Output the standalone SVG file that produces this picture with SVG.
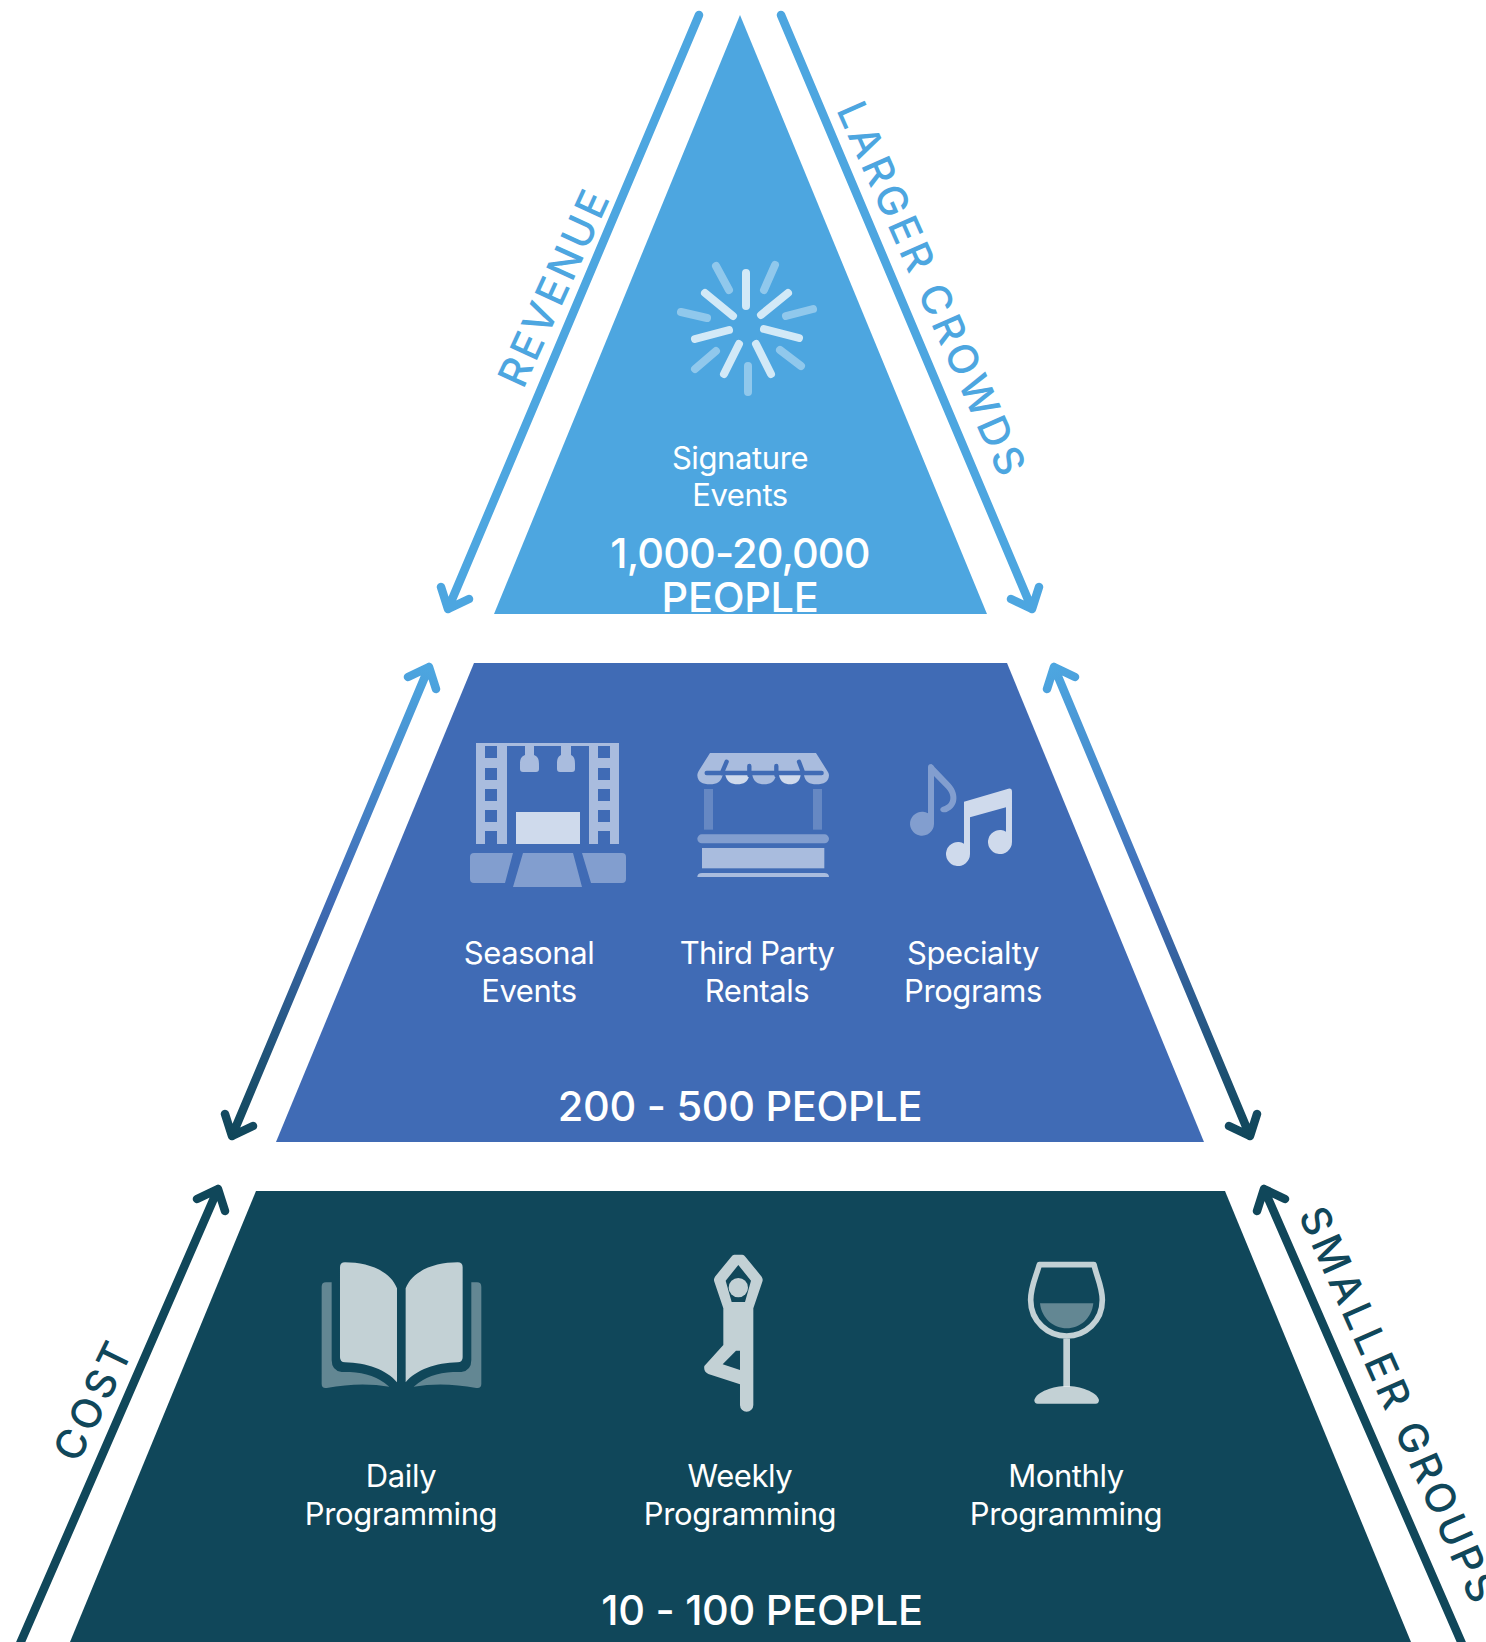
<svg xmlns="http://www.w3.org/2000/svg" width="1486" height="1642" viewBox="0 0 1486 1642">
<style>
text{font-family:"Inter","Liberation Sans",sans-serif;text-anchor:middle;fill:#fff}
.d{font-size:31px;font-weight:400;letter-spacing:-.4px}
.h{font-size:41.5px;font-weight:500;letter-spacing:-.3px}
.s{font-size:41px;font-weight:500}
.a{fill:none;stroke-width:8.5;stroke-linecap:round;stroke-linejoin:round}
.w1{fill:#fff;fill-opacity:.35}
.w2{fill:#fff;fill-opacity:.55}
.w3{fill:#fff;fill-opacity:.75}
.r1{stroke:#fff;stroke-opacity:.75;stroke-width:8;stroke-linecap:round;fill:none}
.r2{stroke:#fff;stroke-opacity:.38;stroke-width:8;stroke-linecap:round;fill:none}
</style>
<defs>
<linearGradient id="gl" gradientUnits="userSpaceOnUse" x1="429" y1="667" x2="232" y2="1136"><stop offset="0" stop-color="#4DA6E0"/><stop offset=".5" stop-color="#406BB5"/><stop offset="1" stop-color="#10475A"/></linearGradient>
<linearGradient id="gr" gradientUnits="userSpaceOnUse" x1="1054" y1="667" x2="1251" y2="1136"><stop offset="0" stop-color="#4DA6E0"/><stop offset=".5" stop-color="#406BB5"/><stop offset="1" stop-color="#10475A"/></linearGradient>
</defs>
<rect width="1486" height="1642" fill="#fff"/>
<g id="connectors">
<path class="a" stroke="#4DA6E0" d="M699 15L448 609M441 587L448 609L469 599"/>
<path class="a" stroke="#4DA6E0" d="M781 15L1032 609M1039 587L1032 609L1011 599"/>
<path class="a" stroke="url(#gl)" d="M429 667L232 1136M225 1114L232 1136L253 1126M408 677L429 667L436 689"/>
<path class="a" stroke="url(#gr)" d="M1054 667L1250 1136M1257 1114L1250 1136L1229 1126M1075 677L1054 667L1047 689"/>
<path class="a" stroke="#10475A" d="M218 1189L19 1646M197 1199L218 1189L225 1211"/>
<path class="a" stroke="#10475A" d="M1264 1189L1463 1646M1285 1199L1264 1189L1257 1211"/>
</g>
<g id="label-revenue"><text class="s" style="fill:#4DA6E0" transform="translate(555 289) rotate(-65.5)" dy="13" textLength="210">REVENUE</text></g>
<g id="label-larger-crowds"><text class="s" style="fill:#4DA6E0" transform="translate(930 289) rotate(66)" dy="13" textLength="404">LARGER CROWDS</text></g>
<g id="label-cost"><text class="s" style="fill:#10475A" transform="translate(94 1402) rotate(-64)" dy="13" textLength="126">COST</text></g>
<g id="label-smaller-groups"><text class="s" style="fill:#10475A" transform="translate(1397 1405) rotate(66)" dy="13" textLength="428">SMALLER GROUPS</text></g>

<g id="tier-top">
<path d="M740 15L987 614H494Z" fill="#4DA6E0"/>
<g id="icon-burst">
<path class="r1" d="M746 273V306M705 293L733 316M788 293L761 315M695 339L729 330M764 329L799 338M739 344L724 374M756 344L771 374"/>
<path class="r2" d="M716 266L729 290M775 265L764 290M681 312L707 318M813 309L786 316M716 351L695 369M780 350L801 366M748 366V392"/>
</g>
<text class="d" x="740" y="469">Signature</text>
<text class="d" x="740" y="506">Events</text>
<text class="h" x="740" y="568" style="letter-spacing:-.9px">1,000-20,000</text>
<text class="h" x="740" y="612">PEOPLE</text>
</g>

<g id="tier-middle">
<path d="M474 663H1007L1204 1142H276Z" fill="#406BB5"/>
<g id="icon-stage">
<path class="w2" fill-rule="evenodd" d="M476 743H619V844H610V831H598V844H589V746H507V844H497V831H485V844H476ZM485 746V758H497V746ZM485 768V780H497V768ZM485 789V801H497V789ZM485 810V822H497V810ZM598 746V758H610V746ZM598 768V780H610V768ZM598 789V801H610V789ZM598 810V822H610V810Z"/>
<path class="w2" d="M525 746H534V755C539 757 539 761 539 766V769Q539 772 536 772H523Q520 772 520 769V766C520 761 520 757 525 755ZM561 746H571V755C575 757 575 761 575 766V769Q575 772 572 772H560Q557 772 557 769V766C557 761 557 757 561 755Z"/>
<rect class="w3" x="516" y="812" width="64" height="32"/>
<path class="w1" d="M513 853L505 883H474Q470 883 470 879V857Q470 853 474 853ZM523 853H573L582 887H513ZM582 853H622Q626 853 626 857V879Q626 883 622 883H591Z"/>
</g>
<g id="icon-stall" transform="translate(680 730) scale(.3333)">
<path class="w2" d="M90 69H408L442 123Q447 130 447 135H52Q52 130 56 123Z"/>
<path class="w2" d="M52 135H128C124 155 110 163 90 163C68 163 52 155 52 135Z"/>
<path class="w3" d="M136 135H208C205 155 190 163 172 163C155 163 140 155 136 135Z"/>
<path class="w2" d="M217 135H288C285 155 270 163 252 163C235 163 220 155 217 135Z"/>
<path class="w3" d="M297 135H362C360 155 345 163 330 163C315 163 300 155 297 135Z"/>
<path class="w2" d="M372 135H447C447 155 431 163 409 163C389 163 375 155 372 135Z"/>
<path fill="none" stroke="#406BB5" stroke-width="13" stroke-linecap="round" d="M80 129H425M140 95L125 130M208 108V135M289 108V135M357 95L370 130"/>
<rect class="w1" style="fill-opacity:.2" x="72" y="177" width="27" height="122"/>
<rect class="w1" style="fill-opacity:.2" x="399" y="177" width="27" height="122"/>
<rect class="w1" x="52" y="313" width="395" height="27" rx="13.5"/>
<rect class="w2" x="66" y="354" width="367" height="61"/>
<path class="w2" d="M52 441Q52 429 66 429H433Q447 429 447 441Z"/>
</g>
<g id="icon-notes" transform="translate(890 750) scale(.3333)">
<path class="w1" d="M114 52Q114 42 124 42Q130 44 134 52L180 100C205 125 210 170 170 186C150 190 145 175 158 170C185 165 190 135 165 112L132 78V222A36 36 0 1 1 114 190Z"/>
<path class="w3" d="M222 155L355 116Q366 114 366 125V276A36 36 0 1 1 348 245V172L240 202V312A36 36 0 1 1 222 281Z"/>
</g>
<text class="d" x="529" y="964">Seasonal</text>
<text class="d" x="529" y="1002">Events</text>
<text class="d" x="757" y="964" style="letter-spacing:-.7px">Third Party</text>
<text class="d" x="757" y="1002">Rentals</text>
<text class="d" x="973" y="964">Specialty</text>
<text class="d" x="973" y="1002">Programs</text>
<text class="h" x="740" y="1121">200 - 500 PEOPLE</text>
</g>

<g id="tier-bottom">
<path d="M256 1191H1225L1411 1642H70Z" fill="#10475A"/>
<g id="icon-book" transform="translate(300 1240) scale(.3333)">
<g id="book-back" class="w1">
<path d="M95 127H78Q65 127 65 140V432Q65 446 80 444Q180 425 268 440Q220 398 150 396H125Q95 392 95 360Z"/>
<path d="M514 127H531Q544 127 544 140V432Q544 446 529 444Q429 425 341 440Q389 398 459 396H484Q514 392 514 360Z"/>
</g>
<path class="w3" d="M135 67Q120 67 120 82V352Q120 367 135 367C200 368 260 390 291 427V145C270 90 200 67 135 67Z"/>
<path class="w3" d="M473 67Q488 67 488 82V352Q488 367 473 367C408 368 348 390 317 427V145C338 90 408 67 473 67Z"/>
</g>
<g id="icon-yoga" transform="translate(680 1240) scale(.3333)">
<path class="w3" fill-rule="evenodd" d="M163 44H187Q192 44 196 50L245 110Q250 118 247 125L220 205V495A20 20 0 0 1 180 495V433L85 402Q70 395 73 378L130 315V205L103 125Q100 118 105 110L154 50Q158 44 163 44ZM175 75L213 122L195 186H155L137 122ZM168 332H180V390L128 373Z"/>
<circle class="w3" cx="175" cy="143" r="29"/>
</g>
<g id="icon-wine" transform="translate(1000 1250) scale(.3333)">
<path fill="none" stroke="#fff" stroke-opacity=".75" stroke-width="17" stroke-linejoin="round" d="M118 44H282C290 80 307 110 307 150C307 215 255 258 200 258C145 258 92 215 92 150C92 110 108 80 118 44Z"/>
<rect class="w3" x="190" y="266" width="20" height="144"/>
<path class="w3" d="M103 450C110 425 160 408 200 408C240 408 290 425 297 450Q297 461 287 461H113Q103 461 103 450Z"/>
<path class="w1" d="M120 160H280C275 205 240 235 200 235C160 235 125 205 120 160Z"/>
</g>
<text class="d" x="401" y="1487">Daily</text>
<text class="d" x="401" y="1525">Programming</text>
<text class="d" x="740" y="1487">Weekly</text>
<text class="d" x="740" y="1525">Programming</text>
<text class="d" x="1066" y="1487">Monthly</text>
<text class="d" x="1066" y="1525">Programming</text>
<text class="h" x="762" y="1625">10 - 100 PEOPLE</text>
</g>
</svg>
